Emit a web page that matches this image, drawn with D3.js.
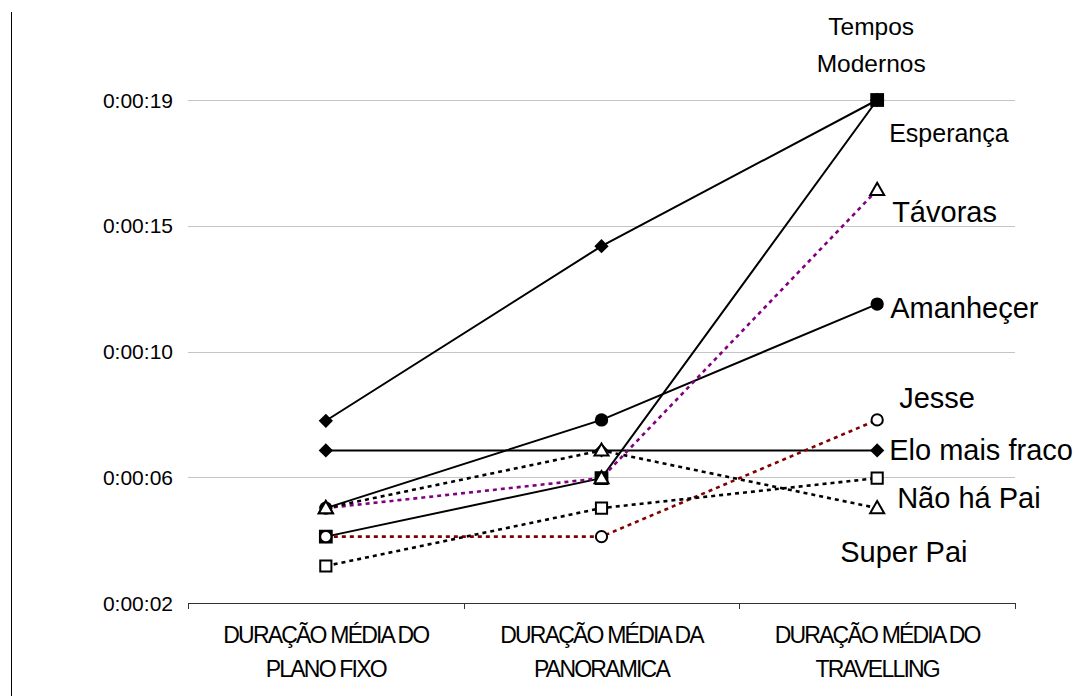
<!DOCTYPE html>
<html><head><meta charset="utf-8">
<script src="https://cdn.jsdelivr.net/npm/d3@7"></script>
<style>
html,body{margin:0;padding:0;background:#fff;}
svg text{font-family:"Liberation Sans",Arial,sans-serif;fill:#000;}
</style></head>
<body><svg id="c" width="1087" height="696"></svg>
<script>
// ---- data ----
const categories = [["DURAÇÃO MÉDIA DO","PLANO FIXO"],["DURAÇÃO MÉDIA DA","PANORAMICA"],["DURAÇÃO MÉDIA DO","TRAVELLING"]];
const yTickValues = [2.16, 6.48, 10.8, 15.12, 19.44]; // seconds
const yTickLabels = ["0:00:02","0:00:06","0:00:10","0:00:15","0:00:19"];
const temposModernos = [8.42, 14.42, 19.44];
const eloMaisFraco   = [7.40, 7.40, 7.40];
const esperanca      = [4.44, 6.45, 19.44];
const amanhecer      = [5.42, 8.45, 12.43];
const jesse          = [4.44, 4.44, 8.45];
const tavoras        = [5.42, 6.45, 16.35];
const naoHaPai       = [5.42, 7.40, 5.42];
const superPai       = [3.43, 5.42, 6.45];
const seriesNames = ["Tempos Modernos","Elo mais fraco","Esperança","Amanheçer","Jesse","Távoras","Não há Pai","Super Pai"];

// ---- styles ----
const series = [
  {name:seriesNames[0], values:temposModernos, color:"#000", dash:null, marker:"diamond"},
  {name:seriesNames[1], values:eloMaisFraco, color:"#000", dash:null, marker:"diamond"},
  {name:seriesNames[2], values:esperanca, color:"#000", dash:null, marker:"squareFilled"},
  {name:seriesNames[3], values:amanhecer, color:"#000", dash:null, marker:"circleFilled"},
  {name:seriesNames[4], values:jesse, color:"#800000", dash:"4,4", marker:"circleOpen"},
  {name:seriesNames[5], values:tavoras, color:"#800080", dash:"4,4", marker:"triangleOpen"},
  {name:seriesNames[6], values:naoHaPai, color:"#000", dash:"4,4", marker:"triangleOpen"},
  {name:seriesNames[7], values:superPai, color:"#000", dash:"4,4", marker:"squareOpen"}
];
// label layout: [dx from last point, baseline y offset from last point, font size, anchor]
const labelLayout = {
  "Esperança":[12, 42, 25, "start"],
  "Távoras":[15, 32, 29, "start"],
  "Amanheçer":[13, 14, 29, "start"],
  "Jesse":[22, -12, 29, "start"],
  "Elo mais fraco":[12, 10, 29, "start"],
  "Não há Pai":[20, 0, 29, "start"],
  "Super Pai":[-37, 84, 29, "start"]
};

const svg = d3.select("#c");
const pLeft=188, pRight=1015, pTop=100, pBottom=603;
const x = d3.scaleBand().domain(d3.range(categories.length)).range([pLeft,pRight]).padding(0);
const y = d3.scaleLinear().domain([yTickValues[0], yTickValues[yTickValues.length-1]]).range([pBottom, pTop]);
const cx = i => x(i) + x.bandwidth()/2;

// left border fragment
svg.append("line").attr("x1",11.5).attr("x2",11.5).attr("y1",12).attr("y2",696).attr("stroke","#000").attr("stroke-width",1);

// gridlines
svg.append("g").selectAll("line").data(yTickValues.slice(1)).join("line")
  .attr("x1",pLeft).attr("x2",pRight).attr("y1",d=>Math.round(y(d))+0.5).attr("y2",d=>Math.round(y(d))+0.5)
  .attr("stroke","#c4c4c4").attr("stroke-width",1);
// y tick labels
svg.append("g").selectAll("text").data(yTickValues).join("text")
  .attr("x",173).attr("y",d=>y(d)+7.5).attr("text-anchor","end").style("font-size","21px")
  .text((d,i)=>yTickLabels[i]);

// x axis
const xg = svg.append("g");
xg.append("line").attr("x1",pLeft).attr("x2",pRight).attr("y1",pBottom+0.5).attr("y2",pBottom+0.5).attr("stroke","#333").attr("stroke-width",1);
const bounds = d3.range(categories.length+1).map(i => i<categories.length ? x(i) : pRight);
xg.selectAll("line.t").data(bounds).join("line").attr("class","t")
  .attr("x1",d=>Math.round(d)+0.5).attr("x2",d=>Math.round(d)+0.5).attr("y1",pBottom).attr("y2",pBottom+6)
  .attr("stroke","#333").attr("stroke-width",1);
xg.selectAll("text").data(categories).join("text")
  .attr("x",(d,i)=>cx(i)).attr("y",643).attr("text-anchor","middle")
  .style("font-size","23px").style("letter-spacing","-1.8px")
  .each(function(d){
    const t=d3.select(this);
    d.forEach((ln,j)=>t.append("tspan").attr("x",+t.attr("x")).attr("y",643+j*34).text(ln));
  });

// lines
const line = d3.line().x((d,i)=>cx(i)).y(d=>y(d));
svg.append("g").selectAll("path").data(series).join("path")
  .attr("d",s=>line(s.values)).attr("fill","none").attr("stroke",s=>s.color)
  .attr("stroke-width",s=>s.dash?2.6:2).attr("stroke-dasharray",s=>s.dash);

// markers
const mg = svg.append("g");
series.forEach(s=>{
  s.values.forEach((v,i)=>{
    const px=cx(i), py=y(v);
    let sym, fill, stroke="#000", size;
    switch(s.marker){
      case "diamond": sym=d3.symbolDiamond2; size=130; fill="#000"; break;
      case "squareFilled": sym=d3.symbolSquare; size=190; fill="#000"; break;
      case "circleFilled": sym=d3.symbolCircle; size=140; fill="#000"; break;
      case "circleOpen": sym=d3.symbolCircle; size=100; fill="#fff"; break;
      case "triangleOpen": sym=d3.symbolTriangle; size=85; fill="#fff"; break;
      case "squareOpen": sym=d3.symbolSquare; size=125; fill="#fff"; break;
    }
    let ty = py;
    if (s.marker==="triangleOpen") ty = py+1;
    mg.append("path").attr("d",d3.symbol(sym,size)()).attr("transform",`translate(${px},${ty})`)
      .attr("fill",fill).attr("stroke",stroke).attr("stroke-width",s.marker.endsWith("Open")?2:0);
  });
});

// labels
const lg = svg.append("g");
const last = categories.length-1;
const tm = series[0];
lg.append("text").attr("x",cx(last)-6).attr("y",y(tm.values[last])-65).attr("text-anchor","middle").style("font-size","24.5px").text("Tempos");
lg.append("text").attr("x",cx(last)-6).attr("y",y(tm.values[last])-28).attr("text-anchor","middle").style("font-size","24.5px").text("Modernos");
series.slice(1).forEach(s=>{
  const L = labelLayout[s.name];
  lg.append("text").attr("x",cx(last)+L[0]).attr("y",y(s.values[last])+L[1])
    .attr("text-anchor",L[3]).style("font-size",L[2]+"px").text(s.name);
});
</script></body></html>
